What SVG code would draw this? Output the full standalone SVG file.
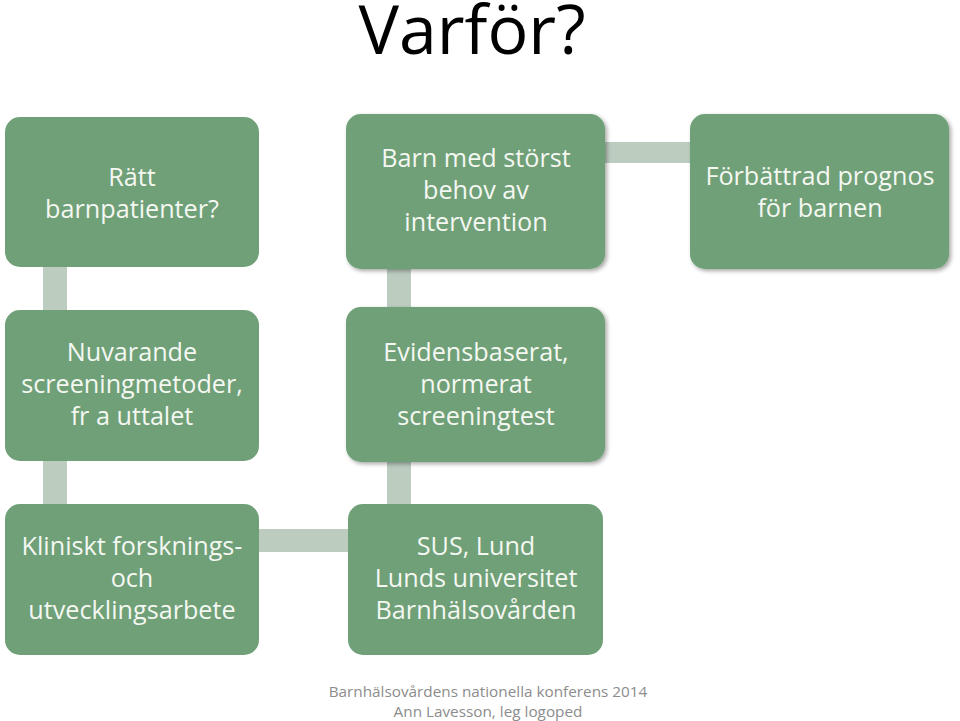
<svg xmlns="http://www.w3.org/2000/svg" width="960" height="721" viewBox="0 0 960 721">
<defs>
<filter id="sh" x="-10%" y="-10%" width="125%" height="125%">
<feDropShadow dx="2" dy="2" stdDeviation="2" flood-color="#000" flood-opacity="0.35"/>
</filter>
<style>
.box{fill:#6fa077;}
.t{font-family:"Open Sans","Liberation Sans",sans-serif;font-size:25.2px;fill:#f4f7f2;text-anchor:middle;}
.c{fill:#bccdc0;}
.f{font-family:"Open Sans","Liberation Sans",sans-serif;font-size:15.3px;fill:#8c8c8c;text-anchor:middle;}
</style>
</defs>
<rect width="960" height="721" fill="#fff"/>
<text x="472" y="54" font-family="Open Sans, Liberation Sans, sans-serif" font-size="68" fill="#000" text-anchor="middle">Varför?</text>
<g id="connectors">
<rect class="c" x="43" y="266" width="24" height="45"/>
<rect class="c" x="43" y="460" width="24" height="46"/>
<rect class="c" x="387" y="268" width="24" height="41"/>
<rect class="c" x="387" y="461" width="24" height="45"/>
<rect class="c" x="604" y="142" width="88" height="21"/>
<rect class="c" x="257" y="529" width="93" height="23"/>
</g>
<g id="n1"><rect class="box" x="5" y="117" width="254" height="150" rx="15"/>
<text class="t" x="132" y="186">Rätt</text><text class="t" x="132" y="218">barnpatienter?</text></g>
<g id="n2"><rect class="box" x="346" y="114" width="259" height="155" rx="15" filter="url(#sh)"/>
<text class="t" x="476" y="167">Barn med störst</text><text class="t" x="476" y="199">behov av</text><text class="t" x="476" y="231">intervention</text></g>
<g id="n3"><rect class="box" x="690" y="114" width="259" height="155" rx="15" filter="url(#sh)"/>
<text class="t" x="820" y="185">Förbättrad prognos</text><text class="t" x="820" y="217">för barnen</text></g>
<g id="n4"><rect class="box" x="5" y="310" width="254" height="151" rx="15"/>
<text class="t" x="132" y="361">Nuvarande</text><text class="t" x="132" y="393">screeningmetoder,</text><text class="t" x="132" y="425">fr a uttalet</text></g>
<g id="n5"><rect class="box" x="346" y="307" width="259" height="155" rx="15" filter="url(#sh)"/>
<text class="t" x="476" y="361">Evidensbaserat,</text><text class="t" x="476" y="393">normerat</text><text class="t" x="476" y="425">screeningtest</text></g>
<g id="n6"><rect class="box" x="5" y="504" width="254" height="151" rx="15"/>
<text class="t" x="132" y="555">Kliniskt forsknings-</text><text class="t" x="132" y="587">och</text><text class="t" x="132" y="619">utvecklingsarbete</text></g>
<g id="n7"><rect class="box" x="348" y="504" width="255" height="151" rx="15"/>
<text class="t" x="476" y="555">SUS, Lund</text><text class="t" x="476" y="587">Lunds universitet</text><text class="t" x="476" y="619">Barnhälsovården</text></g>
<text class="f" x="488" y="697">Barnhälsovårdens nationella konferens 2014</text>
<text class="f" x="488" y="717">Ann Lavesson, leg logoped</text>
</svg>
